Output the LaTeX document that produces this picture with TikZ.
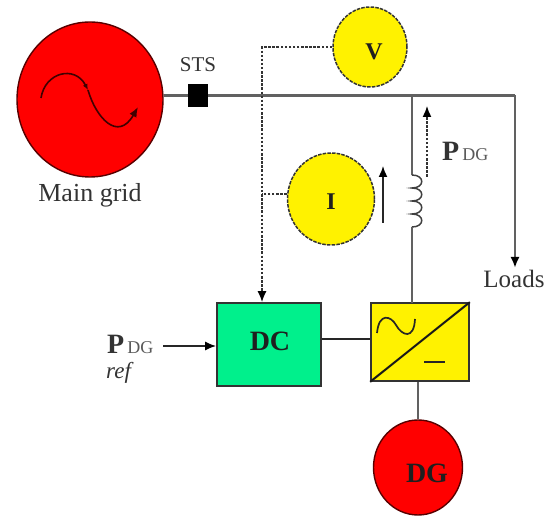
\documentclass[tikz,border=0pt]{standalone}
\usepackage{fontspec}
\setmainfont{Liberation Serif}
\usetikzlibrary{shapes.geometric,arrows.meta,calc}
\tikzset{
  disc/.style={ellipse,draw=#1,inner sep=0pt,line width=1.4pt},
  gauge/.style={ellipse,draw=black!80,dash pattern=on 3.5pt off 1.2pt,fill=yellow,line width=1.5pt,inner sep=0pt},
  blockbox/.style={rectangle,draw=black!80,line width=1.7pt,inner sep=0pt},
  bus/.style={draw=black!62,line width=2.3pt},
  wire/.style={draw=black!85,line width=1.6pt},
  sig/.style={draw=black!80,line width=1.5pt,dash pattern=on 2.5pt off 1.6pt},
  tip/.style={-{Latex[length=11pt,width=9pt,black]}},
  lab/.style={inner sep=0pt,text=black!80},
  bold/.style={inner sep=0pt,font=\bfseries\fontsize{22}{22}\selectfont,text=black!88},
}
\begin{document}
\begin{tikzpicture}[x=1pt,y=-1pt]
\useasboundingbox (0,0) rectangle (549,518);
% main grid
\node[disc=black!65!red,fill=red,minimum width=146pt,minimum height=155pt] (grid) at (90,99.5) {};
\coordinate (s0) at (41,98);
\coordinate (s1) at (88,90);
\coordinate (s2) at (138,107);
\draw[draw=black!75!red,line width=1.6pt,-{Latex[length=6pt,width=5pt]}] (s0) .. controls (45,72) and (75,65) .. (s1);
\draw[draw=black!75!red,line width=1.6pt,-{Latex[length=10pt,width=8pt]}] (s1) .. controls (96,118) and (118,142) .. (s2);
\node[lab,font=\fontsize{26}{26}\selectfont] (gridlab) at (90,195) {Main grid};
% switch
\node[rectangle,fill=black,minimum width=20pt,minimum height=23pt,inner sep=0pt] (sts) at (198,95.5) {};
\node[lab,font=\fontsize{21}{21}\selectfont] (stslab) at (198,65) {STS};
% junctions
\coordinate (jct) at (412,96);
\coordinate (corner) at (515,96);
\coordinate (vturn) at (262,47);
\coordinate (dctap) at (262,194);
% meters
\node[gauge,minimum width=74pt,minimum height=80pt] (V) at (370,47) {};
\node[bold,font=\bfseries\fontsize{24}{24}\selectfont] (Vlab) at (374,52) {V};
\node[gauge,minimum width=87pt,minimum height=92pt] (I) at (331,199) {};
\node[bold,font=\bfseries\fontsize{24}{24}\selectfont] (Ilab) at (331,202) {I};
% blocks
\node[blockbox,fill={rgb,255:red,0;green,240;blue,140},minimum width=104pt,minimum height=83pt] (DC) at (269,344.5) {};
\node[bold,font=\bfseries\fontsize{28}{28}\selectfont] (DClab) at (270,341) {DC};
\node[blockbox,fill=yellow,minimum width=98pt,minimum height=78pt] (conv) at (420,342) {};
\node[disc=black!65!red,fill=red,minimum width=89pt,minimum height=95pt] (DG) at (418,467.5) {};
\node[bold,font=\bfseries\fontsize{28}{28}\selectfont] (DGlab) at (427,473) {DG};
% buses
\draw[bus] (grid.east |- sts) -- (sts.west);
\draw[bus] (sts.east) -- (sts.east -| jct) -- (sts.east -| corner);
\coordinate (loadend) at (515,268);
\node[lab,font=\fontsize{25}{25}\selectfont] (loads) at (514,279) {Loads};
\draw[bus,tip] (sts.east -| corner) -- (loadend);
% inductor
\coordinate (Lt) at (412,175);
\coordinate (Lb) at (412,227);
\draw[bus] (sts.east -| jct) -- (Lt);
\draw[draw=black!75,line width=1.5pt] (Lt) .. controls (425,175) and (425,188) .. (412,188)
   .. controls (425,188) and (425,201) .. (412,201)
   .. controls (425,201) and (425,214) .. (412,214)
   .. controls (425,214) and (425,227) .. (Lb);
\coordinate (convtop) at (412,303);
\draw[bus] (Lb) -- (convtop);
\draw[bus] (conv.south -| DG.north) -- (DG.north);
\coordinate (linky) at (0,339);
\draw[wire] (DC.east |- linky) -- (conv.west |- linky);
% converter symbols
\draw[draw=black!90,line width=2pt] (conv.south west) -- (conv.north east);
\draw[draw=black!85,line width=1.7pt] (377,333) .. controls (379,312) and (391,316) .. (396,325) .. controls (402,336) and (414,340) .. (415,319);
\draw[draw=black!85,line width=1.7pt] (424,362) -- (445,362);
% signals
\draw[sig,tip] (V.west) -- (vturn) -- (DC.north -| vturn);
\draw[sig] (I.west |- dctap) -- (dctap);
% flow arrows
\coordinate (ia) at (383,223); \coordinate (ib) at (383,166);
\draw[wire,tip] (ia) -- (ib);
\coordinate (pa) at (427,177); \coordinate (pb) at (427,106);
\draw[sig,tip] (pa) -- (pb);
% labels
\node[lab,anchor=base west] (pdg) at (442,161) {{\bfseries\fontsize{28}{28}\selectfont P}{\fontsize{18}{18}\selectfont\color{black!65}\,DG}};
\node[lab,anchor=base west] (pref) at (107,354) {{\bfseries\fontsize{28}{28}\selectfont P}{\fontsize{18}{18}\selectfont\color{black!65}\,DG}};
\node[lab,anchor=base west,font=\itshape\fontsize{23}{23}\selectfont] (ref) at (106,379) {ref};
\coordinate (refin) at (163,346);
\draw[wire,tip] (refin) -- (DC.west |- refin);
\end{tikzpicture}
\end{document}
